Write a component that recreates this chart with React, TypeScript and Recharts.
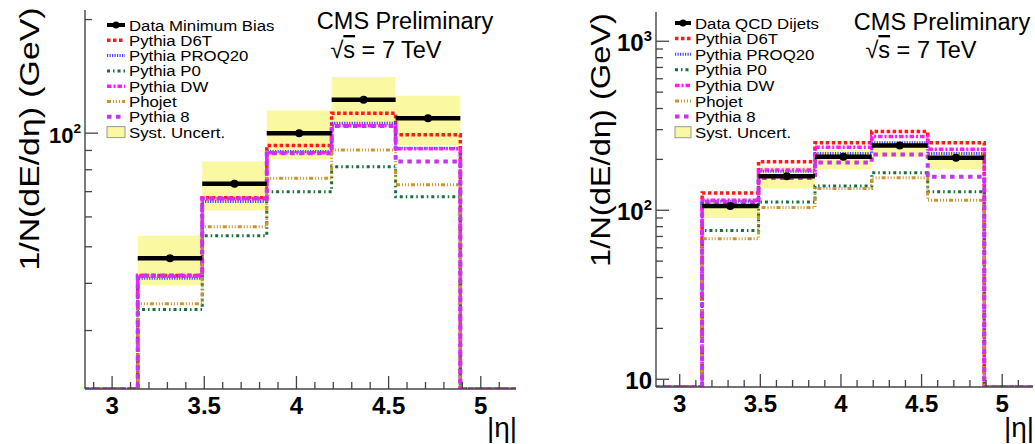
import React from 'react';
import { ComposedChart, Line, Area, Scatter, ErrorBar, XAxis, YAxis } from 'recharts';

// ---------- shared axis data ----------
const X_DOMAIN: [number, number] = [2.853, 5.191];
const BIN_EDGES = [3.139, 3.489, 3.839, 4.191, 4.538, 4.889];
const X_TICKS = [2.9, 3.0, 3.1, 3.2, 3.3, 3.4, 3.5, 3.6, 3.7, 3.8, 3.9, 4.0, 4.1, 4.2, 4.3, 4.4, 4.5, 4.6, 4.7, 4.8, 4.9, 5.0, 5.1];
const X_MAJOR_TICKS = [3, 3.5, 4, 4.5, 5];
const X_MAJOR_LABELS = ['3', '3.5', '4', '4.5', '5'];

// ---------- left panel: minimum bias ----------
const MB_Y_DOMAIN: [number, number] = [21, 212];
const MB_Y_TICKS = [30, 40, 50, 60, 70, 80, 90, 100, 200];
const MB_Y_MAJOR = [100];
const MB_Y_LABELS = [{ base: '10', exp: '2' }];
const MB_DATA = [46.6, 73.4, 100, 122.6, 109.6];
const MB_SYST_LO = [39.6, 62.4, 85.3, 104, 93];
const MB_SYST_HI = [53.5, 84.1, 114.8, 140.8, 125.6];
const MB_D6T = [42.0, 67.4, 92.7, 113, 99];
const MB_PROQ20 = [41.3, 65.9, 89.4, 106.3, 91.2];
const MB_P0 = [34.1, 53.5, 70.0, 81.5, 67.9];
const MB_DW = [41.8, 67.0, 88.8, 104.7, 91.0];
const MB_PHOJET = [35.3, 56.5, 76.0, 90.3, 73.0];
const MB_PYTHIA8 = [42.0, 67.2, 88.5, 104.5, 84.1];

// ---------- right panel: QCD dijets ----------
const DJ_Y_DOMAIN: [number, number] = [9, 1490];
const DJ_Y_TICKS = [10, 20, 30, 40, 50, 60, 70, 80, 90, 100, 200, 300, 400, 500, 600, 700, 800, 900, 1000];
const DJ_Y_MAJOR = [10, 100, 1000];
const DJ_Y_LABELS = [{ base: '10', exp: '' }, { base: '10', exp: '2' }, { base: '10', exp: '3' }];
const DJ_DATA = [106, 159, 207.5, 242, 204.6];
const DJ_SYST_LO = [90, 134.6, 175.5, 205.6, 174.6];
const DJ_SYST_HI = [117.4, 181, 227, 257, 224];
const DJ_D6T = [126.7, 193.6, 251, 292, 251];
const DJ_PROQ20 = [113, 170, 217, 251, 217];
const DJ_P0 = [76, 112, 139, 166.7, 128.5];
const DJ_DW = [114.7, 172.9, 236, 273, 229.6];
const DJ_PHOJET = [67.9, 103.8, 134.6, 156, 114.7];
const DJ_PYTHIA8 = [111.5, 155, 192, 214, 157.8];

// ---------- styles ----------
const FONT = '"Liberation Sans", Arial, Helvetica, sans-serif';
const FRAME = '#444';
const BAND_FILL = '#fbf8a2';

const MODEL_STYLES = [
  { name: 'Pythia D6T', color: '#ff1a1a', dash: '3.5 2.5', width: 3.5 },
  { name: 'Pythia PROQ20', color: '#4848ff', dash: '1.2 1.3', width: 3 },
  { name: 'Pythia P0', color: '#17703a', dash: '3 3 1.5 3', width: 3 },
  { name: 'Pythia DW', color: '#ff1aff', dash: '4.5 2 2 2', width: 3.5 },
  { name: 'Phojet', color: '#c9952f', dash: '4 2 1 2 1 2 1 2', width: 3 },
  { name: 'Pythia 8', color: '#c633f5', dash: '4.5 4.5', width: 4 },
];

function stepData(vals: number[], floor: number) {
  const pts = [{ x: X_DOMAIN[0], y: floor }];
  vals.forEach((v, i) => pts.push({ x: BIN_EDGES[i], y: v }));
  pts.push({ x: BIN_EDGES[BIN_EDGES.length - 1], y: floor });
  pts.push({ x: X_DOMAIN[1], y: floor });
  return pts;
}

function bandData(lo: number[], hi: number[]) {
  const pts = lo.map((l, i) => ({ x: BIN_EDGES[i], lo: l, hi: hi[i] }));
  pts.push({ x: BIN_EDGES[BIN_EDGES.length - 1], lo: lo[lo.length - 1], hi: hi[hi.length - 1] });
  return pts;
}

function pointData(vals: number[]) {
  return vals.map((v, i) => {
    const c = (BIN_EDGES[i] + BIN_EDGES[i + 1]) / 2;
    return { x: c, y: v, ex: [c - BIN_EDGES[i], BIN_EDGES[i + 1] - c] };
  });
}

const XTick = (p: any) => {
  const v = p.payload.value;
  const idx = X_MAJOR_TICKS.findIndex((m) => Math.abs(m - v) < 1e-6);
  const major = idx >= 0;
  return (
    <g>
      <line x1={p.x} x2={p.x} y1={p.y} y2={p.y - (major ? 13 : 7)} stroke={FRAME} strokeWidth={1.3} />
      {major && (
        <text x={p.x} y={p.y + 25} textAnchor="middle" fontSize={24} fontWeight="bold" fill="#000" fontFamily={FONT}>
          {X_MAJOR_LABELS[idx]}
        </text>
      )}
    </g>
  );
};

const makeYTick = (majors: number[], labels: { base: string; exp: string }[], fs: number) => (p: any) => {
  const v = p.payload.value;
  const idx = majors.findIndex((m) => Math.abs(m - v) < 1e-6);
  const major = idx >= 0;
  return (
    <g>
      <line x1={p.x} x2={p.x + (major ? 13 : 7)} y1={p.y} y2={p.y} stroke={FRAME} strokeWidth={1.3} />
      {major && (
        <text x={p.x - 4} y={p.y + 10} textAnchor="end" fontSize={fs} fontWeight="bold" fill="#000" fontFamily={FONT}>
          <tspan>{labels[idx].base}</tspan>
          {labels[idx].exp && (
            <tspan dy={-10} fontSize={fs * 0.62}>
              {labels[idx].exp}
            </tspan>
          )}
        </text>
      )}
    </g>
  );
};

type PanelProps = {
  width: number;
  height: number;
  margin: { top: number; right: number; bottom: number; left: number };
  yAxisWidth: number;
  xAxisHeight: number;
  yDomain: [number, number];
  yTicks: number[];
  yMajor: number[];
  yLabels: { base: string; exp: string }[];
  yFont: number;
  data: number[];
  systLo: number[];
  systHi: number[];
  models: number[][];
};

function Panel(props: PanelProps) {
  const floor = props.yDomain[0];
  const band = bandData(props.systLo, props.systHi);
  const pts = pointData(props.data);
  const YTick = makeYTick(props.yMajor, props.yLabels, props.yFont);
  return (
    <ComposedChart width={props.width} height={props.height} margin={props.margin}>
      <XAxis
        xAxisId="b"
        dataKey="x"
        type="number"
        domain={X_DOMAIN}
        allowDataOverflow
        ticks={X_TICKS}
        interval={0}
        tickSize={0}
        tickMargin={0}
        tickLine={false}
        axisLine={{ stroke: FRAME, strokeWidth: 1.4 }}
        tick={XTick}
        height={props.xAxisHeight}
      />
      <XAxis
        xAxisId="t"
        orientation="top"
        type="number"
        domain={X_DOMAIN}
        allowDataOverflow
        tick={false}
        tickLine={false}
        axisLine={{ stroke: FRAME, strokeWidth: 1.4 }}
        height={0}
      />
      <YAxis
        yAxisId="l"
        dataKey="y"
        type="number"
        scale="log"
        domain={props.yDomain}
        allowDataOverflow
        ticks={props.yTicks}
        interval={0}
        tickSize={0}
        tickMargin={0}
        tickLine={false}
        axisLine={{ stroke: FRAME, strokeWidth: 1.4 }}
        tick={YTick}
        width={props.yAxisWidth}
      />
      <YAxis
        yAxisId="r"
        orientation="right"
        type="number"
        domain={[0, 1]}
        tick={false}
        tickLine={false}
        axisLine={{ stroke: FRAME, strokeWidth: 1.4 }}
        width={0}
      />
      <Area
        xAxisId="b"
        yAxisId="l"
        data={band}
        dataKey={(d: any) => [d.lo, d.hi]}
        type="stepAfter"
        fill={BAND_FILL}
        fillOpacity={1}
        stroke="none"
        isAnimationActive={false}
        dot={false}
        activeDot={false}
      />
      {props.models.map((vals, i) => (
        <Line
          key={MODEL_STYLES[i].name}
          xAxisId="b"
          yAxisId="l"
          data={stepData(vals, floor)}
          dataKey="y"
          type="stepAfter"
          stroke={MODEL_STYLES[i].color}
          strokeWidth={MODEL_STYLES[i].width}
          strokeDasharray={MODEL_STYLES[i].dash}
          dot={false}
          activeDot={false}
          isAnimationActive={false}
        />
      ))}
      <Scatter
        xAxisId="b"
        yAxisId="l"
        data={pts}
        dataKey="y"
        isAnimationActive={false}
        shape={(s: any) => <circle cx={s.cx} cy={s.cy} r={4} fill="#000" />}
      >
        <ErrorBar dataKey="ex" direction="x" width={0} stroke="#000" strokeWidth={4.5} isAnimationActive={false} />
      </Scatter>
    </ComposedChart>
  );
}

function LegendRows({ x1, x2, tx, y0, step, dataLabel }: { x1: number; x2: number; tx: number; y0: number; step: number; dataLabel: string }) {
  const names = [dataLabel, ...MODEL_STYLES.map((m) => m.name), 'Syst. Uncert.'];
  return (
    <g>
      {names.map((n, i) => {
        const y = y0 + i * step;
        let sym: React.ReactNode;
        if (i === 0) {
          sym = (
            <g>
              <line x1={x1} x2={x2} y1={y} y2={y} stroke="#000" strokeWidth={4} />
              <circle cx={(x1 + x2) / 2} cy={y} r={3.5} fill="#000" />
            </g>
          );
        } else if (i === names.length - 1) {
          sym = <rect x={x1} y={y - 5.5} width={x2 - x1} height={11} fill={BAND_FILL} stroke="#999" strokeWidth={1} />;
        } else {
          const m = MODEL_STYLES[i - 1];
          sym = <line x1={x1} x2={x2} y1={y} y2={y} stroke={m.color} strokeWidth={m.width} strokeDasharray={m.dash} />;
        }
        return (
          <g key={n}>
            {sym}
            <text transform={`translate(${tx},${y + 5.5}) scale(1.12,1)`} fontSize={15} fill="#000" fontFamily={FONT}>
              {n}
            </text>
          </g>
        );
      })}
    </g>
  );
}

export default function App() {
  return (
    <div style={{ position: 'absolute', left: 0, top: 0, width: 1035, height: 444, background: '#fff', fontFamily: FONT }}>
      <div style={{ position: 'absolute', left: 0, top: 0 }}>
        <Panel
          width={520}
          height={444}
          margin={{ top: 10, right: 4, bottom: 0, left: 0 }}
          yAxisWidth={85}
          xAxisHeight={55}
          yDomain={MB_Y_DOMAIN}
          yTicks={MB_Y_TICKS}
          yMajor={MB_Y_MAJOR}
          yLabels={MB_Y_LABELS}
          yFont={22}
          data={MB_DATA}
          systLo={MB_SYST_LO}
          systHi={MB_SYST_HI}
          models={[MB_D6T, MB_PROQ20, MB_P0, MB_DW, MB_PHOJET, MB_PYTHIA8]}
        />
      </div>
      <div style={{ position: 'absolute', left: 520, top: 0 }}>
        <Panel
          width={515}
          height={444}
          margin={{ top: 12, right: 2, bottom: 0, left: 0 }}
          yAxisWidth={136}
          xAxisHeight={57}
          yDomain={DJ_Y_DOMAIN}
          yTicks={DJ_Y_TICKS}
          yMajor={DJ_Y_MAJOR}
          yLabels={DJ_Y_LABELS}
          yFont={24}
          data={DJ_DATA}
          systLo={DJ_SYST_LO}
          systHi={DJ_SYST_HI}
          models={[DJ_D6T, DJ_PROQ20, DJ_P0, DJ_DW, DJ_PHOJET, DJ_PYTHIA8]}
        />
      </div>
      <svg width={1035} height={444} style={{ position: 'absolute', left: 0, top: 0, pointerEvents: 'none' }} fontFamily={FONT}>
        {/* Y titles */}
        <text transform="translate(39,139) rotate(-90)" textAnchor="middle" fontSize={28} textLength={263} lengthAdjust="spacingAndGlyphs" fill="#000">
          1/N(dE/dη) (GeV)
        </text>
        <text transform="translate(610,140) rotate(-90)" textAnchor="middle" fontSize={28} textLength={254} lengthAdjust="spacingAndGlyphs" fill="#000">
          1/N(dE/dη) (GeV)
        </text>
        {/* X titles */}
        <text x={517} y={437} textAnchor="end" fontSize={28} fill="#000">|η|</text>
        <text x={1034} y={437} textAnchor="end" fontSize={28} fill="#000">|η|</text>
        {/* CMS labels */}
        <text x={405} y={29} textAnchor="middle" fontSize={23.5} fill="#000">CMS Preliminary</text>
        <text x={386} y={58} textAnchor="middle" fontSize={23.5} fill="#000">
          <tspan>√</tspan>
          <tspan style={{ textDecoration: 'overline' }}>s</tspan>
          <tspan> = 7 TeV</tspan>
        </text>
        <text x={942} y={30} textAnchor="middle" fontSize={23.5} fill="#000">CMS Preliminary</text>
        <text x={921} y={58} textAnchor="middle" fontSize={23.5} fill="#000">
          <tspan>√</tspan>
          <tspan style={{ textDecoration: 'overline' }}>s</tspan>
          <tspan> = 7 TeV</tspan>
        </text>
        {/* Legends */}
        <LegendRows x1={107} x2={125} tx={129} y0={25} step={15.3} dataLabel="Data Minimum Bias" />
        <LegendRows x1={675} x2={691} tx={695} y0={23} step={15.6} dataLabel="Data QCD Dijets" />
      </svg>
    </div>
  );
}
